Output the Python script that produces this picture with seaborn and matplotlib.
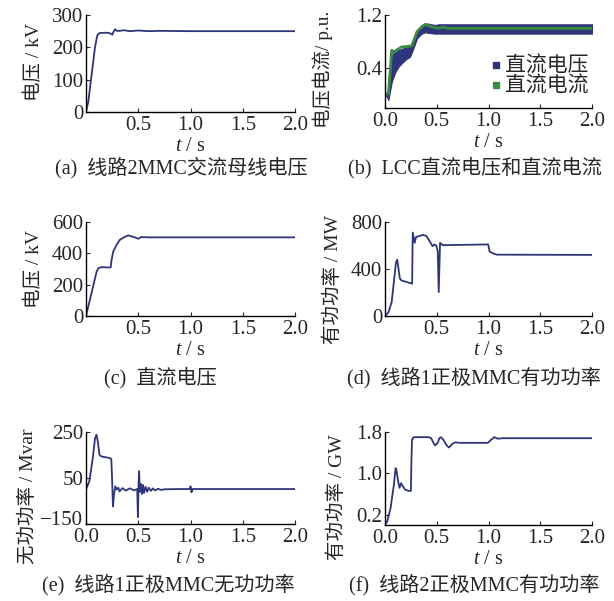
import pandas as pd
import seaborn as sns
import matplotlib.pyplot as plt
from matplotlib.lines import Line2D
from matplotlib.transforms import ScaledTranslation

# (a) 线路2MMC交流母线电压 (kV)
t_a = [0, 0.022, 0.086, 0.108, 0.128, 0.166, 0.214, 0.239, 0.252, 0.262, 0.278, 0.293,
       0.325, 0.36, 0.42, 0.5, 0.6, 0.7, 1.0, 1.5, 2.0]
v_a = [0, 32, 200, 237, 244, 245, 245, 242, 239, 247, 256, 251,
       251, 253, 250, 252, 250, 251, 250, 250, 250]

# (b) LCC直流电压 (band upper/lower) 和直流电流 (p.u.)
t_bv = [0, 0.016, 0.032, 0.065, 0.08, 0.1, 0.13, 0.16, 0.2, 0.24, 0.26, 0.31,
        0.355, 0.39, 0.42, 0.48, 0.52, 0.6, 1.0, 1.5, 2.0]
vb_hi = [0.03, 0.03, 0.0, 0.59, 0.62, 0.64, 0.67, 0.69, 0.71, 0.72, 0.77, 0.97,
         1.05, 1.07, 1.07, 1.05, 1.06, 1.06, 1.06, 1.06, 1.06]
vb_lo = [-0.02, -0.02, -0.08, 0.19, 0.26, 0.34, 0.42, 0.47, 0.53, 0.57, 0.64, 0.85,
         0.92, 0.94, 0.93, 0.92, 0.92, 0.92, 0.92, 0.92, 0.92]
t_bi = [0, 0.032, 0.05, 0.065, 0.08, 0.13, 0.16, 0.24, 0.26, 0.31, 0.355, 0.39,
        0.42, 0.48, 0.52, 0.56, 0.6, 1.0, 2.0]
i_b = [0.01, 0.01, 0.35, 0.67, 0.64, 0.69, 0.72, 0.73, 0.74, 0.95, 1.02, 1.06,
       1.04, 1.01, 1.0, 1.02, 1.0, 1.0, 1.0]

# (c) 直流电压 (kV)
t_c = [0, 0.102, 0.118, 0.15, 0.197, 0.236, 0.245, 0.261, 0.293, 0.325, 0.373, 0.404,
       0.436, 0.468, 0.5, 0.53, 0.6, 1.0, 2.0]
v_c = [0, 284, 305, 312, 310, 310, 359, 412, 455, 487, 506, 515,
       508, 502, 493, 504, 502, 502, 502]

# (d) 线路1正极MMC有功功率 (MW)
t_d = [0, 0.032, 0.064, 0.086, 0.105, 0.118, 0.13, 0.143, 0.16, 0.207, 0.262, 0.268,
       0.287, 0.3, 0.366, 0.4, 0.43, 0.46, 0.478, 0.495, 0.51, 0.519, 0.532, 0.557,
       0.997, 1.01, 1.035, 1.08, 2.0]
p_d = [0, 30, 117, 290, 450, 480, 406, 320, 302, 290, 275, 710,
       623, 672, 690, 681, 638, 594, 609, 600, 551, 203, 623, 603,
       609, 551, 536, 522, 520]

# (e) 线路1正极MMC无功功率 (Mvar)
t_e = [0, 0.032, 0.065, 0.087, 0.1, 0.113, 0.129, 0.145, 0.177, 0.226, 0.242, 0.248,
       0.258, 0.268, 0.28, 0.294, 0.31, 0.32, 0.35, 0.38, 0.42, 0.46, 0.49, 0.497,
       0.503, 0.508, 0.515, 0.525, 0.535, 0.545, 0.555, 0.57, 0.585, 0.6, 0.62, 0.64,
       0.66, 0.69, 0.72, 0.75, 0.9, 0.995, 1.0, 1.01, 1.02, 1.2, 2.0]
q_e = [0, 36, 137, 224, 238, 209, 151, 144, 141, 137, 133, 65,
       -73, -22, 14, 0, 8, -8, 6, -5, 5, -4, 2, -120,
       20, 80, -10, 25, -20, 20, -15, 12, -10, 8, -6, 5,
       -4, 3, -2, 1, 2, 2, 14, -12, 2, 2, 2]

# (f) 线路2正极MMC有功功率 (GW)
t_f = [0, 0.022, 0.054, 0.086, 0.102, 0.11, 0.127, 0.14, 0.156, 0.172, 0.197, 0.23,
       0.25, 0.255, 0.261, 0.277, 0.42, 0.446, 0.468, 0.484, 0.51, 0.525, 0.54, 0.564,
       0.596, 0.618, 0.65, 0.68, 0.72, 0.994, 1.025, 1.057, 1.09, 1.137, 2.0]
p_f = [0, 0.07, 0.33, 0.78, 1.10, 1.07, 0.85, 0.72, 0.81, 0.75, 0.68, 0.66,
       0.66, 1.23, 1.65, 1.70, 1.70, 1.68, 1.59, 1.54, 1.59, 1.68, 1.70, 1.65,
       1.54, 1.50, 1.57, 1.60, 1.59, 1.59, 1.65, 1.70, 1.67, 1.68, 1.68]

NAVY = '#2E3579'
GREEN = '#3C8B45'
FS_TICK = 15
FS_LAB = 14
FS_CAP = 14.5

W, H = 614, 601


def make_axes(fig, l, t, r, b):
    return fig.add_axes([l / W, 1 - b / H, (r - l) / W, (b - t) / H])


def style_axes(ax, ylim, yticks, xticks, xlabels, ylabel, ylab_pos):
    ax.set_xlim(0, 2.0)
    ax.set_ylim(*ylim)
    ax.set_yticks(yticks)
    ax.set_xticks(xticks)
    ax.set_xticklabels(xlabels)
    ax.tick_params(direction='in', length=3, width=0.8, pad=2, labelsize=FS_TICK)
    ax.tick_params(axis='x', pad=3)
    for s in ['left', 'bottom']:
        ax.spines[s].set_linewidth(1.0)
        ax.spines[s].set_color('black')
    sns.despine(ax=ax)
    ax.set_xlabel('$t$ / s', fontsize=FS_LAB + 0.5, labelpad=1)
    ax.set_ylabel(ylabel, fontsize=FS_LAB)
    ax.yaxis.set_label_coords(*ylab_pos)


def main():
    sns.set_style('ticks')
    plt.rcParams['font.family'] = ['Liberation Serif', 'Noto Sans CJK SC']
    plt.rcParams['mathtext.fontset'] = 'custom'
    plt.rcParams['mathtext.it'] = 'Liberation Serif:italic'
    plt.rcParams['mathtext.rm'] = 'Liberation Serif'

    fig = plt.figure(figsize=(6.14, 6.01), dpi=100)

    xt_full = [0, 0.5, 1.0, 1.5, 2.0]
    xl_full = ['0.0', '0.5', '1.0', '1.5', '2.0']
    xl_nozero = ['', '0.5', '1.0', '1.5', '2.0']

    # (a)
    ax = make_axes(fig, 86, 15, 295, 112)
    sns.lineplot(x=t_a, y=v_a, ax=ax, color=NAVY, lw=1.3, estimator=None)
    style_axes(ax, (0, 300), [0, 100, 200, 300], xt_full, xl_nozero,
               '电压 / kV', (-0.206, 0.515))

    # (b)
    ax = make_axes(fig, 385, 15, 592, 108)
    ax.fill_between(t_bv, vb_lo, vb_hi, color=NAVY, lw=0.8)
    sns.lineplot(x=t_bi, y=i_b, ax=ax, color=GREEN, lw=2.0, estimator=None)
    style_axes(ax, (-0.2, 1.2), [0.4, 1.2], xt_full, xl_full,
               '电压电流/ p.u.', (-0.25, 0.41))
    handles = [Line2D([], [], marker='s', ls='', color=NAVY, markersize=5),
               Line2D([], [], marker='s', ls='', color=GREEN, markersize=5)]
    ax.legend(handles, ['直流电压', '直流电流'], loc='upper left',
              bbox_to_anchor=(0.51, 0.548),
              frameon=False, fontsize=FS_TICK, handlelength=0.5, handletextpad=0.2,
              labelspacing=0.0, borderpad=0, borderaxespad=0)

    # (c)
    ax = make_axes(fig, 86, 222, 295, 316)
    sns.lineplot(x=t_c, y=v_c, ax=ax, color=NAVY, lw=1.3, estimator=None)
    style_axes(ax, (0, 600), [0, 200, 400, 600], xt_full, xl_nozero,
               '电压 / kV', (-0.205, 0.5))

    # (d)
    ax = make_axes(fig, 385, 222, 592, 316)
    sns.lineplot(x=t_d, y=p_d, ax=ax, color=NAVY, lw=1.3, estimator=None)
    style_axes(ax, (0, 800), [0, 400, 800], xt_full, xl_nozero,
               '有功功率 / MW', (-0.208, 0.386))

    # (e)
    ax = make_axes(fig, 86, 432, 295, 524)
    sns.lineplot(x=t_e, y=q_e, ax=ax, color=NAVY, lw=1.3, estimator=None)
    style_axes(ax, (-150, 250), [-150, 50, 250], xt_full, xl_full,
               '无功功率 / Mvar', (-0.234, 0.30))
    # lift the bottom y label a little so it clears the 0.0 tick label
    lab = ax.get_yticklabels()[0]
    lab.set_transform(lab.get_transform() + ScaledTranslation(0, 4 / 72, fig.dpi_scale_trans))

    # (f)
    ax = make_axes(fig, 385, 432, 592, 525)
    sns.lineplot(x=t_f, y=p_f, ax=ax, color=NAVY, lw=1.3, estimator=None)
    style_axes(ax, (0, 1.8), [0.2, 1.0, 1.8], xt_full, xl_full,
               '有功功率 / GW', (-0.19, 0.30))

    # captions
    captions = [(181, 168, '(a)  线路2MMC交流母线电压'),
                (475, 168, '(b)  LCC直流电压和直流电流'),
                (160, 378, '(c)  直流电压'),
                (474, 378, '(d)  线路1正极MMC有功功率'),
                (168, 585, '(e)  线路1正极MMC无功功率'),
                (474, 585, '(f)  线路2正极MMC有功功率')]
    for x, y, s in captions:
        fig.text(x / W, 1 - y / H, s, ha='center', va='center', fontsize=FS_CAP)

    fig.savefig('out.png', dpi=100)
    plt.close(fig)


if __name__ == "__main__":
    main()
